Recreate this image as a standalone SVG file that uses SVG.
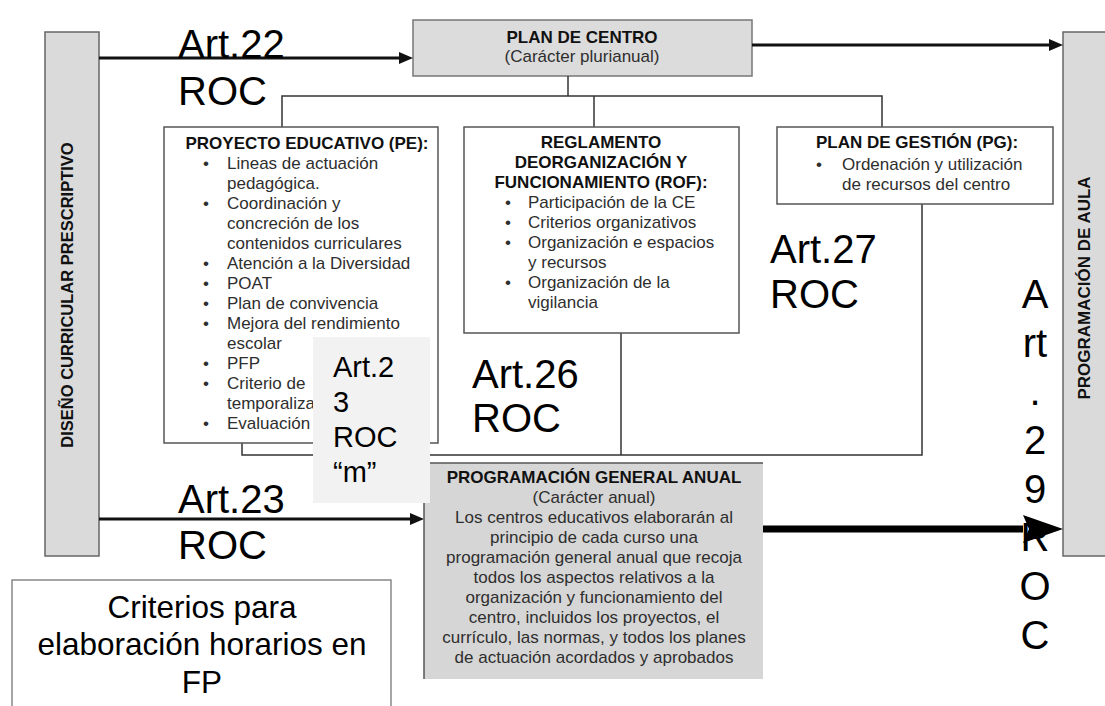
<svg xmlns="http://www.w3.org/2000/svg" width="1105" height="706" viewBox="0 0 1105 706">
<defs>
<style>
.bar{fill:#dadada;stroke:#666;stroke-width:1.5}
.box{fill:#fff;stroke:#555;stroke-width:1.5}
.t{font-family:"Liberation Sans",Arial,sans-serif;font-size:17px;fill:#2e2e2e}
.b{font-weight:bold;fill:#111}
.m{text-anchor:middle}
.big{font-family:"Liberation Sans",Arial,sans-serif;font-size:40px;fill:#000}
.mid{font-family:"Liberation Sans",Arial,sans-serif;font-size:29px;fill:#000}
.conn{stroke:#333;stroke-width:1.5;fill:none}
.arr{stroke:#111;stroke-width:3;fill:none}
.arrB{stroke:#000;stroke-width:7;fill:none}
</style>
<marker id="ah" viewBox="0 0 14 12" refX="0" refY="6" markerWidth="14" markerHeight="12" markerUnits="userSpaceOnUse" orient="auto"><path d="M0,0 L14,6 L0,12 z" fill="#111"/></marker>
<marker id="ahB" viewBox="0 0 40 28" refX="0" refY="14" markerWidth="40" markerHeight="28" markerUnits="userSpaceOnUse" orient="auto"><path d="M0,0 L40,14 L0,28 L6,14 z" fill="#000"/></marker>
</defs>
<rect width="1105" height="706" fill="#fff"/>

<g id="diseno">
<rect class="bar" x="45" y="32" width="54" height="524"/>
<text class="t b m" style="font-size:16.5px" transform="translate(73,295) rotate(-90)">DISEÑO CURRICULAR PRESCRIPTIVO</text>
</g>

<g id="programacion-aula">
<rect class="bar" x="1063" y="32" width="50" height="524"/>
<text class="t b m" transform="translate(1090,288) rotate(-90)">PROGRAMACIÓN DE AULA</text>
</g>

<g id="plan-centro">
<rect class="bar" x="413" y="20" width="339" height="56" style="fill:#dcdcdc;stroke:#777"/>
<text class="t b m" x="582" y="43">PLAN DE CENTRO</text>
<text class="t m" x="582" y="62">(Carácter plurianual)</text>
</g>

<g id="connectors">
<polyline class="conn" points="568,76 568,96"/>
<polyline class="conn" points="282,127 282,96 882,96 882,127"/>
<line class="conn" x1="594" y1="96" x2="594" y2="127"/>
<polyline class="conn" points="242,443 242,455 922,455 922,204"/>
<line class="conn" x1="621" y1="333" x2="621" y2="455"/>
<line class="arr" x1="99" y1="58" x2="399" y2="58" marker-end="url(#ah)"/>
<line class="arr" x1="752" y1="45" x2="1049" y2="45" marker-end="url(#ah)"/>
<line class="arr" x1="99" y1="519" x2="410" y2="519" marker-end="url(#ah)"/>
<line class="arrB" x1="763" y1="529" x2="1023" y2="529" marker-end="url(#ahB)"/>
</g>

<g id="proyecto-educativo">
<rect class="box" x="164" y="127" width="274" height="316"/>
<text class="t b m" x="307" y="149">PROYECTO EDUCATIVO (PE):</text>
<text class="t" x="203" y="169">•</text><text class="t" x="227" y="169">Lineas de actuación</text>
<text class="t" x="227" y="189">pedagógica.</text>
<text class="t" x="203" y="209">•</text><text class="t" x="227" y="209">Coordinación y</text>
<text class="t" x="227" y="229">concreción de los</text>
<text class="t" x="227" y="249">contenidos curriculares</text>
<text class="t" x="203" y="269">•</text><text class="t" x="227" y="269">Atención a la Diversidad</text>
<text class="t" x="203" y="289">•</text><text class="t" x="227" y="289">POAT</text>
<text class="t" x="203" y="309">•</text><text class="t" x="227" y="309">Plan de convivencia</text>
<text class="t" x="203" y="329">•</text><text class="t" x="227" y="329">Mejora del rendimiento</text>
<text class="t" x="227" y="349">escolar</text>
<text class="t" x="203" y="369">•</text><text class="t" x="227" y="369">PFP</text>
<text class="t" x="203" y="389">•</text><text class="t" x="227" y="389">Criterio de</text>
<text class="t" x="227" y="409">temporaliza</text>
<text class="t" x="203" y="429">•</text><text class="t" x="227" y="429">Evaluación</text>
</g>

<g id="rof">
<rect class="box" x="464" y="127" width="275" height="206"/>
<text class="t b m" x="601" y="148">REGLAMENTO</text>
<text class="t b m" x="601" y="168">DEORGANIZACIÓN Y</text>
<text class="t b m" x="601" y="188">FUNCIONAMIENTO (ROF):</text>
<text class="t" x="505" y="208">•</text><text class="t" x="528" y="208">Participación de la CE</text>
<text class="t" x="505" y="228">•</text><text class="t" x="528" y="228">Criterios organizativos</text>
<text class="t" x="505" y="248">•</text><text class="t" x="528" y="248">Organización e espacios</text>
<text class="t" x="528" y="268">y recursos</text>
<text class="t" x="505" y="288">•</text><text class="t" x="528" y="288">Organización de la</text>
<text class="t" x="528" y="308">vigilancia</text>
</g>

<g id="plan-gestion">
<rect class="box" x="777" y="127" width="276" height="77"/>
<text class="t b m" x="917" y="148">PLAN DE GESTIÓN (PG):</text>
<text class="t" x="816" y="170">•</text><text class="t" x="842" y="170">Ordenación y utilización</text>
<text class="t" x="842" y="190">de recursos del centro</text>
</g>

<g id="pga">
<rect x="424" y="463" width="339" height="216" fill="#d6d6d6"/>
<polyline class="conn" points="424,679 424,463 763,463" style="stroke:#555"/>
<text class="t b m" x="594" y="483">PROGRAMACIÓN GENERAL ANUAL</text>
<text class="t m" x="594" y="503">(Carácter anual)</text>
<text class="t m" x="594" y="523">Los centros educativos elaborarán al</text>
<text class="t m" x="594" y="543">principio de cada curso una</text>
<text class="t m" x="594" y="563">programación general anual que recoja</text>
<text class="t m" x="594" y="583">todos los aspectos relativos a la</text>
<text class="t m" x="594" y="603">organización y funcionamiento del</text>
<text class="t m" x="594" y="623">centro, incluidos los proyectos, el</text>
<text class="t m" x="594" y="643">currículo, las normas, y todos los planes</text>
<text class="t m" x="594" y="663">de actuación acordados y aprobados</text>
</g>

<g id="art23-m">
<rect x="313" y="337" width="117" height="166" fill="#f2f2f2"/>
<text class="mid" x="333" y="377">Art.2</text>
<text class="mid" x="333" y="412">3</text>
<text class="mid" x="333" y="447">ROC</text>
<text class="mid" x="333" y="482">“m”</text>
</g>

<g id="criterios-fp">
<rect x="12" y="580" width="379" height="140" fill="#fff" stroke="#888" stroke-width="1.5"/>
<text class="big m" style="font-size:31.5px" x="202" y="618">Criterios para</text>
<text class="big m" style="font-size:31.5px" x="202" y="655">elaboración horarios en</text>
<text class="big m" style="font-size:31.5px" x="202" y="693">FP</text>
</g>

<g id="labels">
<text class="big" x="178" y="58">Art.22</text>
<text class="big" x="178" y="105">ROC</text>
<text class="big" x="178" y="513">Art.23</text>
<text class="big" x="178" y="559">ROC</text>
<text class="big" x="472" y="388">Art.26</text>
<text class="big" x="472" y="432">ROC</text>
<text class="big" x="770" y="263">Art.27</text>
<text class="big" x="770" y="308">ROC</text>
<text class="big m" x="1035" y="308">A</text>
<text class="big m" x="1035" y="357">rt</text>
<text class="big m" x="1035" y="405">.</text>
<text class="big m" x="1035" y="454">2</text>
<text class="big m" x="1035" y="503">9</text>
<text class="big m" x="1035" y="551">R</text>
<text class="big m" x="1035" y="600">O</text>
<text class="big m" x="1035" y="649">C</text>
</g>
</svg>
